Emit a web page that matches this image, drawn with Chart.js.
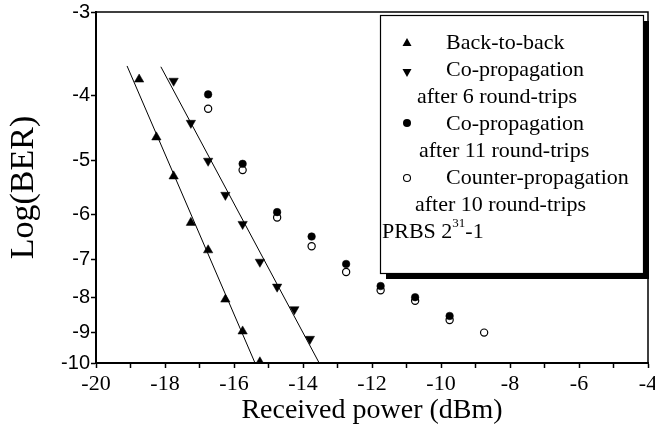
<!DOCTYPE html>
<html>
<head>
<meta charset="utf-8">
<script src="https://cdn.jsdelivr.net/npm/chart.js@4/dist/chart.umd.min.js"></script>
<style>
  html, body { margin: 0; padding: 0; background: #fff; }
  #wrap { width: 655px; height: 430px; }
</style>
</head>
<body>
<div id="wrap"><canvas id="ber" width="655" height="430"></canvas></div>
<script>
// ===== BER vs received power (values are Log(BER)) =====
const b2bPower = [-18.75, -18.25, -17.75, -17.25, -16.75, -16.25, -15.75, -15.25];
const b2bLogBer = [-3.78, -4.61, -5.27, -6.18, -6.79, -8.04, -8.97, -9.97];

const co6Power = [-17.75, -17.25, -16.75, -16.25, -15.75, -15.25, -14.75, -14.25, -13.8];
const co6LogBer = [-3.80, -4.39, -5.00, -5.62, -6.21, -7.07, -7.70, -8.32, -9.21];

const co11Power = [-16.75, -15.75, -14.75, -13.75, -12.75, -11.75, -10.75, -9.75];
const co11LogBer = [-3.98, -5.05, -5.96, -6.48, -7.12, -7.68, -7.98, -8.51];

const counterPower = [-16.75, -15.75, -14.75, -13.75, -12.75, -11.75, -10.75, -9.75, -8.75];
const counterLogBer = [-4.18, -5.16, -6.07, -6.70, -7.32, -7.79, -8.08, -8.63, -9.01];

// straight fit lines (end points)
const fitB2bPower = [-19.1, -15.39];
const fitB2bLogBer = [-3.61, -10];
const fitCo6Power = [-18.12, -13.53];
const fitCo6LogBer = [-3.62, -10];

const yTickValues = [-3, -4, -5, -6, -7, -8, -9, -10];
const xLabelValues = [-20, -18, -16, -14, -12, -10, -8, -6, -4];

const legendNames = [
  ["Back-to-back"],
  ["Co-propagation", "after 6 round-trips"],
  ["Co-propagation", "after 11 round-trips"],
  ["Counter-propagation", "after 10 round-trips"]
];
const noteText = ["PRBS 2", "31", "-1"];

// the y axis is logarithmic in -Log(BER)
function pts(px, py) {
  return px.map((x, i) => ({ x: x, y: -py[i] }));
}

const serif = '"Liberation Serif", "Times New Roman", serif';
const sans = '"Liberation Sans", Arial, sans-serif';

// legend box + frame
const berLegend = {
  id: "berLegend",
  afterDraw(chart) {
    const ctx = chart.ctx;
    const a = chart.chartArea;
    ctx.save();
    // top and right frame
    ctx.strokeStyle = "#000";
    ctx.lineWidth = 1.5;
    ctx.beginPath();
    ctx.moveTo(a.left, a.top);
    ctx.lineTo(a.right, a.top);
    ctx.lineTo(a.right, a.bottom);
    ctx.stroke();

    const bx = 380, by = 15, bw = 263, bh = 258;
    ctx.fillStyle = "#000";
    ctx.fillRect(bx + 6, by + 6, bw, bh);
    ctx.fillStyle = "#fff";
    ctx.fillRect(bx, by, bw, bh);
    ctx.lineWidth = 1.2;
    ctx.strokeRect(bx + 0.5, by + 0.5, bw, bh);

    ctx.fillStyle = "#000";
    ctx.font = "22px " + serif;
    ctx.textBaseline = "middle";
    ctx.textAlign = "left";

    const mx = 407;
    // markers
    ctx.beginPath();
    ctx.moveTo(mx, 43 - 5); ctx.lineTo(mx + 4.5, 43 + 3); ctx.lineTo(mx - 4.5, 43 + 3);
    ctx.closePath(); ctx.fill();
    ctx.beginPath();
    ctx.moveTo(mx, 72 + 5); ctx.lineTo(mx + 4.5, 72 - 3); ctx.lineTo(mx - 4.5, 72 - 3);
    ctx.closePath(); ctx.fill();
    ctx.beginPath(); ctx.arc(mx, 123, 4, 0, Math.PI * 2); ctx.fill();
    ctx.beginPath(); ctx.arc(mx, 178, 3.5, 0, Math.PI * 2);
    ctx.lineWidth = 1.1; ctx.stroke();

    ctx.fillText(legendNames[0][0], 446, 43);
    ctx.fillText(legendNames[1][0], 446, 70);
    ctx.fillText(legendNames[1][1], 417, 97);
    ctx.fillText(legendNames[2][0], 446, 124);
    ctx.fillText(legendNames[2][1], 419, 151);
    ctx.fillText(legendNames[3][0], 446, 178);
    ctx.fillText(legendNames[3][1], 415, 205);

    let tx = 382;
    ctx.fillText(noteText[0], tx, 232);
    tx += ctx.measureText(noteText[0]).width;
    ctx.font = "13px " + serif;
    ctx.fillText(noteText[1], tx, 224);
    tx += ctx.measureText(noteText[1]).width;
    ctx.font = "22px " + serif;
    ctx.fillText(noteText[2], tx, 232);
    ctx.restore();
  }
};

const ctx = document.getElementById("ber");
const berChart = new Chart(ctx, {
  type: "scatter",
  data: {
    datasets: [
      {
        label: legendNames[0][0],
        data: pts(b2bPower, b2bLogBer),
        pointStyle: "triangle",
        pointRadius: 5.4,
        backgroundColor: "#000",
        borderColor: "#000",
        borderWidth: 0.5
      },
      {
        label: legendNames[1].join(" "),
        data: pts(co6Power, co6LogBer),
        pointStyle: "triangle",
        rotation: 180,
        pointRadius: 5.4,
        backgroundColor: "#000",
        borderColor: "#000",
        borderWidth: 0.5
      },
      {
        label: legendNames[2].join(" "),
        data: pts(co11Power, co11LogBer),
        pointStyle: "circle",
        pointRadius: 3.8,
        backgroundColor: "#000",
        borderColor: "#000",
        borderWidth: 0.5
      },
      {
        label: legendNames[3].join(" "),
        data: pts(counterPower, counterLogBer),
        pointStyle: "circle",
        pointRadius: 3.6,
        backgroundColor: "#fff",
        borderColor: "#000",
        borderWidth: 1.2
      },
      {
        label: "fit b2b",
        data: pts(fitB2bPower, fitB2bLogBer),
        showLine: true,
        pointRadius: 0,
        borderColor: "#000",
        borderWidth: 1
      },
      {
        label: "fit co6",
        data: pts(fitCo6Power, fitCo6LogBer),
        showLine: true,
        pointRadius: 0,
        borderColor: "#000",
        borderWidth: 1
      }
    ]
  },
  options: {
    responsive: false,
    animation: false,
    layout: { padding: { top: 12, right: 7, left: 0, bottom: 0 } },
    plugins: {
      legend: { display: false },
      tooltip: { enabled: false }
    },
    scales: {
      x: {
        type: "linear",
        min: -20,
        max: -4,
        afterFit: s => { s.height = 67; s.paddingLeft = 0; s.paddingRight = 0; },
        border: { display: true, color: "#000", width: 2 },
        grid: { drawOnChartArea: false, tickLength: 5, tickColor: "#000", tickWidth: 1.5 },
        ticks: {
          stepSize: 1,
          autoSkip: false,
          maxRotation: 0,
          padding: 3,
          color: "#000",
          font: { family: serif, size: 22 },
          callback: v => (xLabelValues.includes(v) ? String(v) : "")
        },
        title: {
          display: true,
          text: "Received power (dBm)",
          color: "#000",
          font: { family: serif, size: 28 },
          padding: { top: 0, bottom: 3 }
        }
      },
      y: {
        type: "logarithmic",
        reverse: true,
        min: 3,
        max: 10,
        afterFit: s => { s.width = 96; s.paddingTop = 0; s.paddingBottom = 0; },
        afterBuildTicks: s => { s.ticks = yTickValues.map(v => ({ value: -v })); },
        border: { display: true, color: "#000", width: 2 },
        grid: { drawOnChartArea: false, tickLength: 5, tickColor: "#000", tickWidth: 1.5 },
        ticks: {
          padding: 1,
          color: "#000",
          font: { family: sans, size: 20 },
          callback: v => String(-v)
        },
        title: {
          display: true,
          text: "Log(BER)",
          color: "#000",
          font: { family: serif, size: 34 },
          padding: { top: 4, bottom: 0 }
        }
      }
    }
  },
  plugins: [berLegend]
});
</script>
</body>
</html>
